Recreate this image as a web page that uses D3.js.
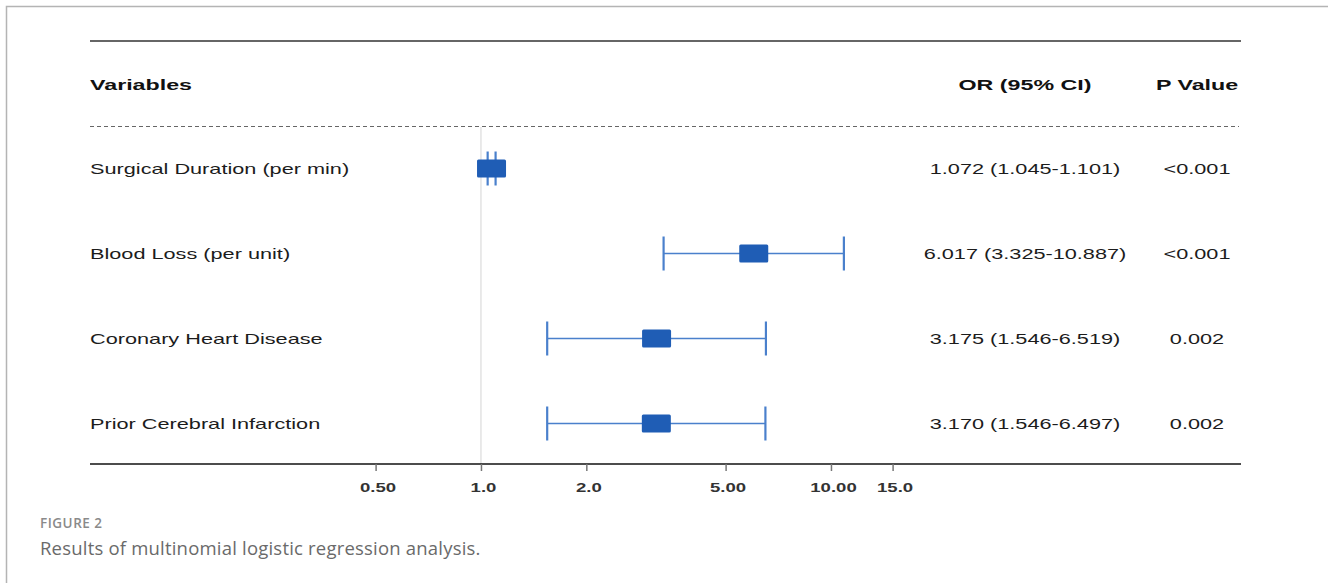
<!DOCTYPE html>
<html>
<head>
<meta charset="utf-8">
<script src="https://cdn.jsdelivr.net/npm/d3@7"></script>
<style>
  html, body { margin: 0; padding: 0; background: #fff; }
  svg { display: block; }
</style>
</head>
<body>
<svg id="chart"></svg>
<script>
// data
const variables = [
  "Surgical Duration (per min)",
  "Blood Loss (per unit)",
  "Coronary Heart Disease",
  "Prior Cerebral Infarction"
];
const orValues = [1.072, 6.017, 3.175, 3.170];
const ciLower = [1.045, 3.325, 1.546, 1.546];
const ciUpper = [1.101, 10.887, 6.519, 6.497];
const pValues = ["<0.001", "<0.001", "0.002", "0.002"];
const tickValues = [0.5, 1, 2, 5, 10, 15];
const tickLabels = ["0.50", "1.0", "2.0", "5.00", "10.00", "15.0"];

const rows = variables.map((v, i) => ({
  name: v, or: orValues[i], lo: ciLower[i], hi: ciUpper[i], p: pValues[i]
}));

const width = 1328, height = 583;
const left = 90, right = 1241;
const sx = 1.55; // the figure text is stretched horizontally
const fmt = d3.format(".3f");

const svg = d3.select("#chart").attr("width", width).attr("height", height);

// frame of the figure panel
svg.append("path")
  .attr("d", `M6.5,${height} V6.5 H${width}`)
  .attr("fill", "none").attr("stroke", "#b4b4b4").attr("stroke-width", 1.5);

const x = d3.scaleLog().domain([0.5, 15]).range([375.6, 892.6]);
const y = d3.scaleBand().domain(variables).range([126, 466]);

function txt(g, tx, ty, s, opts = {}) {
  return g.append("text")
    .attr("transform", `translate(${tx},${ty}) scale(${sx},1)`)
    .attr("text-anchor", opts.anchor || "start")
    .attr("font-family", "'Liberation Sans', Arial, sans-serif")
    .attr("font-size", opts.size || 14)
    .attr("font-weight", opts.bold ? "bold" : "normal")
    .attr("fill", opts.fill || "#1c1c1c")
    .text(s);
}

const g = svg.append("g");

// top rule and header
g.append("line").attr("x1", left).attr("x2", right).attr("y1", 41).attr("y2", 41)
  .attr("stroke", "#333").attr("stroke-width", 1.5);
txt(g, left, 90, "Variables", { bold: true, size: 15, fill: "#111" });
txt(g, 1025, 90, "OR (95% CI)", { bold: true, size: 15, anchor: "middle", fill: "#111" });
txt(g, 1197, 90, "P Value", { bold: true, size: 15, anchor: "middle", fill: "#111" });
g.append("line").attr("x1", left).attr("x2", 1239).attr("y1", 126.5).attr("y2", 126.5)
  .attr("stroke", "#666").attr("stroke-dasharray", "4,3");

// reference line at OR = 1
g.append("line").attr("x1", x(1)).attr("x2", x(1)).attr("y1", 127).attr("y2", 464)
  .attr("stroke", "#dcdcdc").attr("stroke-width", 1.2);

// bottom axis
g.append("line").attr("x1", left).attr("x2", right).attr("y1", 464).attr("y2", 464)
  .attr("stroke", "#111").attr("stroke-width", 1.5);
const axis = g.append("g").attr("transform", "translate(0,464)")
  .call(d3.axisBottom(x).tickValues(tickValues).tickSize(7)
    .tickFormat((d, i) => tickLabels[i]));
axis.select(".domain").remove();
axis.selectAll(".tick line").attr("stroke", "#777").attr("stroke-width", 1.5);
axis.selectAll(".tick text").remove();
axis.selectAll(".tick").each(function (d, i) {
  txt(d3.select(this), 2, 28, tickLabels[i], { bold: true, size: 12, anchor: "middle", fill: "#333" });
});

// rows
const row = g.selectAll(".row").data(rows).join("g").attr("class", "row")
  .attr("transform", d => `translate(0,${y(d.name) + y.bandwidth() / 2})`);

row.each(function (d) {
  const r = d3.select(this);
  txt(r, left, 5, d.name);
  txt(r, 1025, 5, `${fmt(d.or)} (${fmt(d.lo)}-${fmt(d.hi)})`, { anchor: "middle" });
  txt(r, 1197, 5, d.p, { anchor: "middle" });
});

const ciColor = "#4a80cc";
row.append("line").attr("x1", d => x(d.lo)).attr("x2", d => x(d.hi))
  .attr("stroke", ciColor).attr("stroke-width", 1.6);
row.append("line").attr("x1", d => x(d.lo)).attr("x2", d => x(d.lo))
  .attr("y1", -17).attr("y2", 17).attr("stroke", ciColor).attr("stroke-width", 2.2);
row.append("line").attr("x1", d => x(d.hi)).attr("x2", d => x(d.hi))
  .attr("y1", -17).attr("y2", 17).attr("stroke", ciColor).attr("stroke-width", 2.2);
row.append("rect")
  .attr("x", d => x(d.or) - 14.5).attr("y", -9)
  .attr("width", 29).attr("height", 18).attr("rx", 1.5)
  .attr("fill", "#1f5db5");

// caption
svg.append("text").attr("x", 40).attr("y", 528)
  .attr("font-family", "'Open Sans', sans-serif").attr("font-size", 13.5)
  .attr("font-weight", 600).attr("letter-spacing", 0.5).attr("fill", "#8a8a8a")
  .text("FIGURE 2");
svg.append("text").attr("x", 40).attr("y", 555)
  .attr("font-family", "'Open Sans', sans-serif").attr("font-size", 18.5)
  .attr("letter-spacing", 0.2).attr("fill", "#6a6a6a")
  .text("Results of multinomial logistic regression analysis.");
</script>
</body>
</html>
